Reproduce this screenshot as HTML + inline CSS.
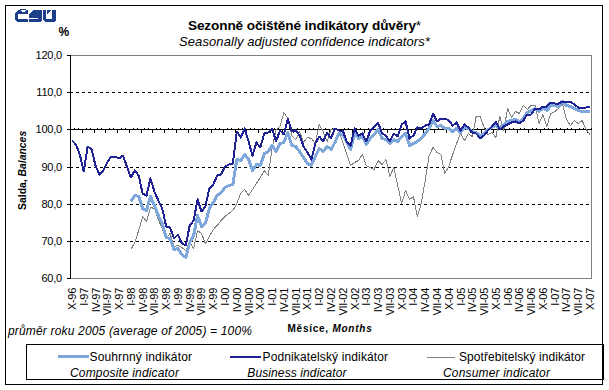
<!DOCTYPE html><html><head><meta charset="utf-8"><style>html,body{margin:0;padding:0;background:#fff;}svg{display:block;}text{font-family:"Liberation Sans",sans-serif;fill:#000;}</style></head><body>
<svg width="609" height="390" viewBox="0 0 609 390">
<rect x="0" y="0" width="609" height="390" fill="#fff"/>
<rect x="5.5" y="5.5" width="597" height="379" fill="none" stroke="#000" stroke-width="1"/>
<g fill="#1d3f8b" shape-rendering="crispEdges">
<polygon points="18,10 28,10 28,14 18,14 18,19 28,19 28,22 17,22 15,20 15,13"/>
<rect x="20" y="9" width="6" height="1"/>
<polygon points="29,14 33,10 42,10 42,20 40,22 29,22 29,19 38,19 38,18 29,18"/>
<polygon points="43,10 46,10 46,19 52,19 52,10 56,10 56,20 54,22 45,22 43,20"/>
<polygon points="47,10 51,10 47,14"/>
</g>
<g fill="#fff" shape-rendering="crispEdges"><rect x="21" y="10" width="5" height="1"/><rect x="22" y="11" width="3" height="1"/></g>
<text x="304.5" y="29.7" text-anchor="middle" font-size="13.6" font-weight="bold" letter-spacing="-0.12">Sezonně očištěné indikátory důvěry<tspan font-weight="normal">*</tspan></text>
<text x="304.5" y="46" text-anchor="middle" font-size="13" font-style="italic" letter-spacing="0.09">Seasonally adjusted confidence indicators*</text>
<text x="58.5" y="35.5" font-size="12" font-weight="bold">%</text>
<text transform="translate(26.3,170.4) rotate(-90)" text-anchor="middle" font-size="10.4" font-weight="bold">Salda, <tspan font-style="italic">Balances</tspan></text>
<g shape-rendering="crispEdges">
<path d="M70 55.5 H591.5 V278.5 H70" fill="none" stroke="#808080" stroke-width="1"/>
<line x1="70" y1="92.5" x2="591" y2="92.5" stroke="#000" stroke-width="1" stroke-dasharray="3 3"/>
<line x1="70" y1="167.5" x2="591" y2="167.5" stroke="#000" stroke-width="1" stroke-dasharray="3 3"/>
<line x1="70" y1="204.5" x2="591" y2="204.5" stroke="#000" stroke-width="1" stroke-dasharray="3 3"/>
<line x1="70" y1="241.5" x2="591" y2="241.5" stroke="#000" stroke-width="1" stroke-dasharray="3 3"/>
<line x1="70.5" y1="55" x2="70.5" y2="279" stroke="#000" stroke-width="1"/>
<line x1="67" y1="129.5" x2="592" y2="129.5" stroke="#000" stroke-width="1"/>
<line x1="67" y1="55.5" x2="70" y2="55.5" stroke="#000" stroke-width="1"/>
<line x1="67" y1="92.5" x2="70" y2="92.5" stroke="#000" stroke-width="1"/>
<line x1="67" y1="129.5" x2="70" y2="129.5" stroke="#000" stroke-width="1"/>
<line x1="67" y1="167.5" x2="70" y2="167.5" stroke="#000" stroke-width="1"/>
<line x1="67" y1="204.5" x2="70" y2="204.5" stroke="#000" stroke-width="1"/>
<line x1="67" y1="241.5" x2="70" y2="241.5" stroke="#000" stroke-width="1"/>
<line x1="67" y1="278.5" x2="70" y2="278.5" stroke="#000" stroke-width="1"/>
<path d="M74.5 128V129 M78.5 128V129 M82.5 130V133 M86.5 128V129 M90.5 128V129 M94.5 130V133 M97.5 128V129 M101.5 128V129 M105.5 130V133 M109.5 128V129 M113.5 128V129 M117.5 130V133 M121.5 128V129 M125.5 128V129 M129.5 130V133 M133.5 128V129 M137.5 128V129 M141.5 130V133 M144.5 128V129 M148.5 128V129 M152.5 130V133 M156.5 128V129 M160.5 128V129 M164.5 130V133 M168.5 128V129 M172.5 128V129 M176.5 130V133 M180.5 128V129 M184.5 128V129 M188.5 130V133 M191.5 128V129 M195.5 128V129 M199.5 130V133 M203.5 128V129 M207.5 128V129 M211.5 130V133 M215.5 128V129 M219.5 128V129 M223.5 130V133 M227.5 128V129 M231.5 128V129 M235.5 130V133 M238.5 128V129 M242.5 128V129 M246.5 130V133 M250.5 128V129 M254.5 128V129 M258.5 130V133 M262.5 128V129 M266.5 128V129 M270.5 130V133 M274.5 128V129 M278.5 128V129 M282.5 130V133 M285.5 128V129 M289.5 128V129 M293.5 130V133 M297.5 128V129 M301.5 128V129 M305.5 130V133 M309.5 128V129 M313.5 128V129 M317.5 130V133 M321.5 128V129 M325.5 128V129 M329.5 130V133 M332.5 128V129 M336.5 128V129 M340.5 130V133 M344.5 128V129 M348.5 128V129 M352.5 130V133 M356.5 128V129 M360.5 128V129 M364.5 130V133 M368.5 128V129 M372.5 128V129 M376.5 130V133 M379.5 128V129 M383.5 128V129 M387.5 130V133 M391.5 128V129 M395.5 128V129 M399.5 130V133 M403.5 128V129 M407.5 128V129 M411.5 130V133 M415.5 128V129 M419.5 128V129 M423.5 130V133 M426.5 128V129 M430.5 128V129 M434.5 130V133 M438.5 128V129 M442.5 128V129 M446.5 130V133 M450.5 128V129 M454.5 128V129 M458.5 130V133 M462.5 128V129 M466.5 128V129 M470.5 130V133 M473.5 128V129 M477.5 128V129 M481.5 130V133 M485.5 128V129 M489.5 128V129 M493.5 130V133 M497.5 128V129 M501.5 128V129 M505.5 130V133 M509.5 128V129 M513.5 128V129 M517.5 130V133 M520.5 128V129 M524.5 128V129 M528.5 130V133 M532.5 128V129 M536.5 128V129 M540.5 130V133 M544.5 128V129 M548.5 128V129 M552.5 130V133 M556.5 128V129 M560.5 128V129 M564.5 130V133 M567.5 128V129 M571.5 128V129 M575.5 130V133 M579.5 128V129 M583.5 128V129 M587.5 130V133 M591.5 128V129" stroke="#000" stroke-width="1" fill="none"/>
</g>
<path d="M130.83 249.5 L134.76 242.5 L138.68 230.5 L142.61 216.5 L146.53 221.5 L150.46 207.5 L154.38 208.5 L158.31 219.5 L162.23 228.5 L166.16 238.5 L170.08 233.5 L174.01 246.5 L177.93 245.5 L181.86 247.5 L185.78 250.5 L189.71 242.5 L193.63 248.5 L197.56 230.5 L201.48 233.5 L205.41 243.5 L209.33 236.5 L213.26 229.5 L217.18 225.5 L221.11 220.5 L225.03 216.5 L228.95 213.5 L232.88 210.5 L236.80 203.5 L240.73 193.5 L244.65 189.5 L248.58 195.5 L252.50 189.5 L256.43 183.5 L260.35 177.5 L264.28 170.5 L268.20 175.5 L272.13 148.5 L276.05 129.5 L279.98 126.5 L283.90 112.5 L287.83 118.5 L291.75 135.5 L295.68 139.5 L299.60 131.5 L303.53 142.5 L307.45 137.5 L311.38 138.5 L315.30 143.5 L319.23 124.5 L323.15 131.5 L327.08 141.5 L331.00 129.5 L334.92 128.5 L338.85 129.5 L342.77 142.5 L346.70 154.5 L350.62 165.5 L354.55 162.5 L358.47 160.5 L362.40 154.5 L366.32 165.5 L370.25 167.5 L374.17 169.5 L378.10 160.5 L382.02 164.5 L385.95 159.5 L389.87 176.5 L393.80 167.5 L397.72 185.5 L401.65 203.5 L405.57 190.5 L409.50 199.5 L413.42 196.5 L417.35 216.5 L421.27 203.5 L425.20 180.5 L429.12 155.5 L433.05 147.5 L436.97 152.5 L440.89 154.5 L444.82 173.5 L448.74 166.5 L452.67 154.5 L456.59 143.5 L460.52 133.5 L464.44 140.5 L468.37 133.5 L472.29 136.5 L476.22 116.5 L480.14 116.5 L484.07 127.5 L487.99 134.5 L491.92 132.5 L495.84 137.5 L499.77 116.5 L503.69 130.5 L507.62 108.5 L511.54 117.5 L515.47 111.5 L519.39 113.5 L523.32 105.5 L527.24 109.5 L531.17 105.5 L535.09 105.5 L539.02 123.5 L542.94 114.5 L546.86 126.5 L550.79 113.5 L554.71 111.5 L558.64 108.5 L562.56 104.5 L566.49 119.5 L570.41 125.5 L574.34 120.5 L578.26 123.5 L582.19 120.5 L586.11 129.5 L590.04 134.5" fill="none" stroke="#808080" stroke-width="1" stroke-linejoin="round" shape-rendering="crispEdges"/>
<path d="M130.83 201.5 L134.76 195.5 L138.68 196.5 L142.61 208.5 L146.53 210.5 L150.46 196.5 L154.38 205.5 L158.31 215.5 L162.23 223.5 L166.16 237.5 L170.08 238.5 L174.01 249.5 L177.93 248.5 L181.86 254.5 L185.78 257.5 L189.71 242.5 L193.63 235.5 L197.56 215.5 L201.48 226.5 L205.41 223.5 L209.33 208.5 L213.26 202.5 L217.18 195.5 L221.11 192.5 L225.03 187.5 L228.95 185.5 L232.88 184.5 L236.80 159.5 L240.73 160.5 L244.65 154.5 L248.58 159.5 L252.50 170.5 L256.43 164.5 L260.35 165.5 L264.28 153.5 L268.20 151.5 L272.13 145.5 L276.05 151.5 L279.98 143.5 L283.90 142.5 L287.83 132.5 L291.75 145.5 L295.68 146.5 L299.60 151.5 L303.53 157.5 L307.45 163.5 L311.38 165.5 L315.30 156.5 L319.23 148.5 L323.15 151.5 L327.08 146.5 L331.00 149.5 L334.92 142.5 L338.85 133.5 L342.77 134.5 L346.70 142.5 L350.62 149.5 L354.55 133.5 L358.47 138.5 L362.40 136.5 L366.32 144.5 L370.25 138.5 L374.17 134.5 L378.10 129.5 L382.02 138.5 L385.95 139.5 L389.87 143.5 L393.80 139.5 L397.72 141.5 L401.65 136.5 L405.57 133.5 L409.50 145.5 L413.42 143.5 L417.35 141.5 L421.27 138.5 L425.20 133.5 L429.12 128.5 L433.05 120.5 L436.97 126.5 L440.89 125.5 L444.82 128.5 L448.74 128.5 L452.67 131.5 L456.59 128.5 L460.52 132.5 L464.44 127.5 L468.37 128.5 L472.29 131.5 L476.22 132.5 L480.14 135.5 L484.07 133.5 L487.99 129.5 L491.92 127.5 L495.84 125.5 L499.77 127.5 L503.69 124.5 L507.62 121.5 L511.54 120.5 L515.47 119.5 L519.39 121.5 L523.32 118.5 L527.24 112.5 L531.17 110.5 L535.09 108.5 L539.02 111.5 L542.94 108.5 L546.86 110.5 L550.79 105.5 L554.71 105.5 L558.64 106.5 L562.56 101.5 L566.49 105.5 L570.41 106.5 L574.34 108.5 L578.26 110.5 L582.19 111.5 L586.11 111.5 L590.04 111.5" fill="none" stroke="#7ea8dc" stroke-width="3" stroke-linejoin="round" shape-rendering="crispEdges"/>
<path d="M71.96 140.5 L75.89 144.5 L79.81 154.5 L83.74 171.5 L87.66 146.5 L91.59 149.5 L95.51 165.5 L99.44 174.5 L103.36 170.5 L107.29 162.5 L111.21 156.5 L115.14 156.5 L119.06 158.5 L122.98 155.5 L126.91 166.5 L130.83 177.5 L134.76 170.5 L138.68 175.5 L142.61 193.5 L146.53 195.5 L150.46 178.5 L154.38 191.5 L158.31 200.5 L162.23 208.5 L166.16 226.5 L170.08 227.5 L174.01 238.5 L177.93 234.5 L181.86 243.5 L185.78 245.5 L189.71 225.5 L193.63 220.5 L197.56 199.5 L201.48 211.5 L205.41 206.5 L209.33 188.5 L213.26 184.5 L217.18 175.5 L221.11 174.5 L225.03 166.5 L228.95 164.5 L232.88 163.5 L236.80 131.5 L240.73 137.5 L244.65 128.5 L248.58 141.5 L252.50 155.5 L256.43 142.5 L260.35 147.5 L264.28 133.5 L268.20 132.5 L272.13 128.5 L276.05 141.5 L279.98 130.5 L283.90 134.5 L287.83 118.5 L291.75 131.5 L295.68 130.5 L299.60 135.5 L303.53 146.5 L307.45 152.5 L311.38 159.5 L315.30 143.5 L319.23 136.5 L323.15 141.5 L327.08 132.5 L331.00 138.5 L334.92 128.5 L338.85 130.5 L342.77 130.5 L346.70 141.5 L350.62 145.5 L354.55 128.5 L358.47 135.5 L362.40 133.5 L366.32 141.5 L370.25 130.5 L374.17 126.5 L378.10 122.5 L382.02 133.5 L385.95 135.5 L389.87 141.5 L393.80 133.5 L397.72 136.5 L401.65 124.5 L405.57 121.5 L409.50 138.5 L413.42 135.5 L417.35 127.5 L421.27 128.5 L425.20 125.5 L429.12 124.5 L433.05 113.5 L436.97 121.5 L440.89 118.5 L444.82 118.5 L448.74 120.5 L452.67 125.5 L456.59 122.5 L460.52 130.5 L464.44 124.5 L468.37 127.5 L472.29 132.5 L476.22 133.5 L480.14 138.5 L484.07 135.5 L487.99 130.5 L491.92 126.5 L495.84 121.5 L499.77 129.5 L503.69 126.5 L507.62 124.5 L511.54 122.5 L515.47 121.5 L519.39 123.5 L523.32 120.5 L527.24 114.5 L531.17 114.5 L535.09 108.5 L539.02 109.5 L542.94 106.5 L546.86 106.5 L550.79 102.5 L554.71 103.5 L558.64 103.5 L562.56 101.5 L566.49 101.5 L570.41 101.5 L574.34 104.5 L578.26 107.5 L582.19 107.5 L586.11 107.5 L590.04 106.5" fill="none" stroke="#1e2294" stroke-width="2" stroke-linejoin="round" shape-rendering="crispEdges"/>
<text x="62" y="59.0" text-anchor="end" font-size="11" letter-spacing="-0.2">120,0</text>
<text x="62" y="96.0" text-anchor="end" font-size="11" letter-spacing="-0.2">110,0</text>
<text x="62" y="133.0" text-anchor="end" font-size="11" letter-spacing="-0.2">100,0</text>
<text x="62" y="171.0" text-anchor="end" font-size="11" letter-spacing="-0.2">90,0</text>
<text x="62" y="208.0" text-anchor="end" font-size="11" letter-spacing="-0.2">80,0</text>
<text x="62" y="245.0" text-anchor="end" font-size="11" letter-spacing="-0.2">70,0</text>
<text x="62" y="282.0" text-anchor="end" font-size="11" letter-spacing="-0.2">60,0</text>
<text transform="translate(75.96,288) rotate(-90)" text-anchor="end" font-size="11" letter-spacing="-0.3">X-96</text>
<text transform="translate(87.74,288) rotate(-90)" text-anchor="end" font-size="11" letter-spacing="-0.3">I-97</text>
<text transform="translate(99.51,288) rotate(-90)" text-anchor="end" font-size="11" letter-spacing="-0.3">IV-97</text>
<text transform="translate(111.29,288) rotate(-90)" text-anchor="end" font-size="11" letter-spacing="-0.3">VII-97</text>
<text transform="translate(123.06,288) rotate(-90)" text-anchor="end" font-size="11" letter-spacing="-0.3">X-97</text>
<text transform="translate(134.83,288) rotate(-90)" text-anchor="end" font-size="11" letter-spacing="-0.3">I-98</text>
<text transform="translate(146.61,288) rotate(-90)" text-anchor="end" font-size="11" letter-spacing="-0.3">IV-98</text>
<text transform="translate(158.38,288) rotate(-90)" text-anchor="end" font-size="11" letter-spacing="-0.3">VII-98</text>
<text transform="translate(170.16,288) rotate(-90)" text-anchor="end" font-size="11" letter-spacing="-0.3">X-98</text>
<text transform="translate(181.93,288) rotate(-90)" text-anchor="end" font-size="11" letter-spacing="-0.3">I-99</text>
<text transform="translate(193.71,288) rotate(-90)" text-anchor="end" font-size="11" letter-spacing="-0.3">IV-99</text>
<text transform="translate(205.48,288) rotate(-90)" text-anchor="end" font-size="11" letter-spacing="-0.3">VII-99</text>
<text transform="translate(217.26,288) rotate(-90)" text-anchor="end" font-size="11" letter-spacing="-0.3">X-99</text>
<text transform="translate(229.03,288) rotate(-90)" text-anchor="end" font-size="11" letter-spacing="-0.3">I-00</text>
<text transform="translate(240.80,288) rotate(-90)" text-anchor="end" font-size="11" letter-spacing="-0.3">IV-00</text>
<text transform="translate(252.58,288) rotate(-90)" text-anchor="end" font-size="11" letter-spacing="-0.3">VII-00</text>
<text transform="translate(264.35,288) rotate(-90)" text-anchor="end" font-size="11" letter-spacing="-0.3">X-00</text>
<text transform="translate(276.13,288) rotate(-90)" text-anchor="end" font-size="11" letter-spacing="-0.3">I-01</text>
<text transform="translate(287.90,288) rotate(-90)" text-anchor="end" font-size="11" letter-spacing="-0.3">IV-01</text>
<text transform="translate(299.68,288) rotate(-90)" text-anchor="end" font-size="11" letter-spacing="-0.3">VII-01</text>
<text transform="translate(311.45,288) rotate(-90)" text-anchor="end" font-size="11" letter-spacing="-0.3">X-01</text>
<text transform="translate(323.23,288) rotate(-90)" text-anchor="end" font-size="11" letter-spacing="-0.3">I-02</text>
<text transform="translate(335.00,288) rotate(-90)" text-anchor="end" font-size="11" letter-spacing="-0.3">IV-02</text>
<text transform="translate(346.77,288) rotate(-90)" text-anchor="end" font-size="11" letter-spacing="-0.3">VII-02</text>
<text transform="translate(358.55,288) rotate(-90)" text-anchor="end" font-size="11" letter-spacing="-0.3">X-02</text>
<text transform="translate(370.32,288) rotate(-90)" text-anchor="end" font-size="11" letter-spacing="-0.3">I-03</text>
<text transform="translate(382.10,288) rotate(-90)" text-anchor="end" font-size="11" letter-spacing="-0.3">IV-03</text>
<text transform="translate(393.87,288) rotate(-90)" text-anchor="end" font-size="11" letter-spacing="-0.3">VII-03</text>
<text transform="translate(405.65,288) rotate(-90)" text-anchor="end" font-size="11" letter-spacing="-0.3">X-03</text>
<text transform="translate(417.42,288) rotate(-90)" text-anchor="end" font-size="11" letter-spacing="-0.3">I-04</text>
<text transform="translate(429.20,288) rotate(-90)" text-anchor="end" font-size="11" letter-spacing="-0.3">IV-04</text>
<text transform="translate(440.97,288) rotate(-90)" text-anchor="end" font-size="11" letter-spacing="-0.3">VII-04</text>
<text transform="translate(452.74,288) rotate(-90)" text-anchor="end" font-size="11" letter-spacing="-0.3">X-04</text>
<text transform="translate(464.52,288) rotate(-90)" text-anchor="end" font-size="11" letter-spacing="-0.3">I-05</text>
<text transform="translate(476.29,288) rotate(-90)" text-anchor="end" font-size="11" letter-spacing="-0.3">IV-05</text>
<text transform="translate(488.07,288) rotate(-90)" text-anchor="end" font-size="11" letter-spacing="-0.3">VII-05</text>
<text transform="translate(499.84,288) rotate(-90)" text-anchor="end" font-size="11" letter-spacing="-0.3">X-05</text>
<text transform="translate(511.62,288) rotate(-90)" text-anchor="end" font-size="11" letter-spacing="-0.3">I-06</text>
<text transform="translate(523.39,288) rotate(-90)" text-anchor="end" font-size="11" letter-spacing="-0.3">IV-06</text>
<text transform="translate(535.17,288) rotate(-90)" text-anchor="end" font-size="11" letter-spacing="-0.3">VII-06</text>
<text transform="translate(546.94,288) rotate(-90)" text-anchor="end" font-size="11" letter-spacing="-0.3">X-06</text>
<text transform="translate(558.71,288) rotate(-90)" text-anchor="end" font-size="11" letter-spacing="-0.3">I-07</text>
<text transform="translate(570.49,288) rotate(-90)" text-anchor="end" font-size="11" letter-spacing="-0.3">IV-07</text>
<text transform="translate(582.26,288) rotate(-90)" text-anchor="end" font-size="11" letter-spacing="-0.3">VII-07</text>
<text transform="translate(594.04,288) rotate(-90)" text-anchor="end" font-size="11" letter-spacing="-0.3">X-07</text>
<text x="8" y="335" font-size="12" font-style="italic" letter-spacing="0.17">průměr roku 2005 (average of 2005) = 100%</text>
<text x="287.5" y="331.5" font-size="10" font-weight="bold" letter-spacing="0.75">Měsíce, <tspan font-style="italic">Months</tspan></text>
<g shape-rendering="crispEdges">
<rect x="26.5" y="344.5" width="576" height="35" fill="#fff" stroke="#000" stroke-width="1"/>
<line x1="603.5" y1="344" x2="603.5" y2="380" stroke="#000" stroke-width="1"/>
<rect x="58" y="355" width="31" height="3" fill="#7ea8dc"/>
<rect x="230" y="356" width="31" height="2" fill="#1e2294"/>
<rect x="427" y="357" width="28" height="1" fill="#808080"/>
</g>
<text x="89.5" y="361.4" font-size="12" letter-spacing="0.14">Souhrnný indikátor</text>
<text x="70" y="376.5" font-size="12" font-style="italic" letter-spacing="0.16">Composite indicator</text>
<text x="262.5" y="361.4" font-size="12" letter-spacing="0.13">Podnikatelský indikátor</text>
<text x="247.3" y="376.5" font-size="12" font-style="italic" letter-spacing="0.11">Business indicator</text>
<text x="459" y="361.4" font-size="12" letter-spacing="0.08">Spotřebitelský indikátor</text>
<text x="443" y="376.5" font-size="12" font-style="italic" letter-spacing="0.17">Consumer indicator</text>
</svg></body></html>
